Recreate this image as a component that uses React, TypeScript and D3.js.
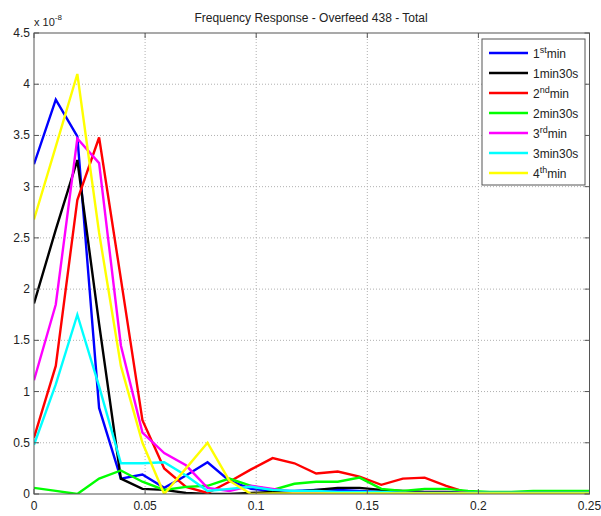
import React from "react";
import * as d3 from "d3";

// Frequency bins (cycles/sample), spacing 1/102.4
const freqs = [
  0, 0.0098, 0.0195, 0.0293, 0.0391, 0.0488, 0.0586, 0.0684, 0.0781, 0.0879,
  0.0977, 0.1074, 0.1172, 0.127, 0.1367, 0.1465, 0.1563, 0.166, 0.1758, 0.1855,
  0.1953, 0.2051, 0.2148, 0.2246, 0.2344, 0.2441, 0.2539,
];

// Amplitudes in units of 1e-8
const min1 = [3.22, 3.85, 3.49, 0.84, 0.15, 0.19, 0.06, 0.18, 0.31, 0.13, 0.05, 0.03, 0.03, 0.04, 0.04, 0.03, 0.02, 0.01, 0.01, 0.01, 0.01, 0.01, 0.01, 0.01, 0.01, 0.01, 0.01];
const min1s30 = [1.86, 2.58, 3.26, 1.66, 0.15, 0.05, 0.04, 0.01, 0.0, 0.0, 0.01, 0.02, 0.02, 0.04, 0.06, 0.06, 0.04, 0.03, 0.02, 0.02, 0.01, 0.01, 0.01, 0.01, 0.01, 0.01, 0.01];
const min2 = [0.55, 1.25, 2.87, 3.48, 2.1, 0.72, 0.25, 0.07, 0.01, 0.12, 0.24, 0.35, 0.3, 0.2, 0.22, 0.17, 0.09, 0.15, 0.16, 0.08, 0.01, 0.0, 0.0, 0.0, 0.0, 0.0, 0.0];
const min2s30 = [0.06, 0.03, 0.0, 0.15, 0.23, 0.12, 0.04, 0.07, 0.08, 0.15, 0.08, 0.04, 0.1, 0.12, 0.12, 0.16, 0.05, 0.03, 0.05, 0.05, 0.03, 0.02, 0.02, 0.03, 0.03, 0.03, 0.03];
const min3 = [1.11, 1.85, 3.47, 3.23, 1.45, 0.6, 0.4, 0.28, 0.06, 0.03, 0.08, 0.05, 0.02, 0.02, 0.01, 0.01, 0.01, 0.01, 0.01, 0.01, 0.01, 0.01, 0.01, 0.01, 0.01, 0.01, 0.01];
const min3s30 = [0.48, 1.07, 1.75, 1.05, 0.3, 0.3, 0.31, 0.18, 0.03, 0.05, 0.07, 0.04, 0.03, 0.03, 0.02, 0.02, 0.02, 0.01, 0.01, 0.01, 0.01, 0.01, 0.01, 0.01, 0.01, 0.01, 0.01];
const min4 = [2.68, 3.39, 4.1, 2.55, 1.25, 0.5, 0.0, 0.25, 0.5, 0.13, 0.0, 0.005, 0.005, 0.005, 0.005, 0.005, 0.005, 0.005, 0.005, 0.005, 0.005, 0.005, 0.005, 0.005, 0.005, 0.005, 0.005];

const xTicks = [0, 0.05, 0.1, 0.15, 0.2, 0.25];
const yTicks = [0, 0.5, 1, 1.5, 2, 2.5, 3, 3.5, 4, 4.5];

type Label = { base: string; sup?: string; rest?: string };
const seriesList: { name: Label; color: string; values: number[] }[] = [
  { name: { base: "1", sup: "st", rest: "min" }, color: "#0000ff", values: min1 },
  { name: { base: "1min30s" }, color: "#000000", values: min1s30 },
  { name: { base: "2", sup: "nd", rest: "min" }, color: "#ff0000", values: min2 },
  { name: { base: "2min30s" }, color: "#00ff00", values: min2s30 },
  { name: { base: "3", sup: "rd", rest: "min" }, color: "#ff00ff", values: min3 },
  { name: { base: "3min30s" }, color: "#00ffff", values: min3s30 },
  { name: { base: "4", sup: "th", rest: "min" }, color: "#ffff00", values: min4 },
];

const W = 601;
const H = 516;
const left = 34;
const right = 589.5;
const top = 33;
const bottom = 494;
const font = "Arial, 'Liberation Sans', sans-serif";

export default function App() {
  const x = d3.scaleLinear().domain([0, 0.25]).range([left, right]);
  const y = d3.scaleLinear().domain([0, 4.5]).range([bottom, top]);
  const line = d3
    .line<[number, number]>()
    .x((d) => x(d[0]))
    .y((d) => y(d[1]));

  const legX = 482;
  const legY = 39;
  const legW = 103;
  const legH = 146;

  return (
    <svg
      width={W}
      height={H}
      style={{ position: "absolute", left: 0, top: 0, background: "#fff" }}
      fontFamily={font}
    >
      <defs>
        <clipPath id="plot">
          <rect x={left} y={top - 2} width={right - left} height={bottom - top + 2} />
        </clipPath>
      </defs>
      <rect x={0} y={0} width={W} height={H} fill="#fff" />

      {/* grid */}
      {xTicks.slice(1, -1).map((t) => (
        <line key={"gx" + t} x1={x(t)} x2={x(t)} y1={top} y2={bottom} stroke="#b0b0b0" strokeWidth={1} strokeDasharray="1,2" />
      ))}
      {yTicks.slice(1, -1).map((t) => (
        <line key={"gy" + t} x1={left} x2={right} y1={y(t)} y2={y(t)} stroke="#b0b0b0" strokeWidth={1} strokeDasharray="1,2" />
      ))}

      {/* series */}
      <g clipPath="url(#plot)">
        {seriesList.map((s, i) => (
          <path
            key={i}
            d={line(freqs.map((f, k) => [f, s.values[k]] as [number, number])) || ""}
            fill="none"
            stroke={s.color}
            strokeWidth={2.4}
            strokeLinejoin="miter"
          />
        ))}
      </g>

      {/* axes box and ticks */}
      <rect x={left} y={top} width={right - left} height={bottom - top} fill="none" stroke="#555" strokeWidth={1} />
      {xTicks.map((t) => (
        <g key={"tx" + t}>
          <line x1={x(t)} x2={x(t)} y1={bottom} y2={bottom - 5} stroke="#555" />
          <line x1={x(t)} x2={x(t)} y1={top} y2={top + 5} stroke="#555" />
          <text x={x(t)} y={510} fontSize={12} textAnchor="middle" fill="#222">
            {String(t)}
          </text>
        </g>
      ))}
      {yTicks.map((t) => (
        <g key={"ty" + t}>
          <line x1={left} x2={left + 5} y1={y(t)} y2={y(t)} stroke="#555" />
          <line x1={right} x2={right - 5} y1={y(t)} y2={y(t)} stroke="#555" />
          <text x={30} y={y(t) + 4} fontSize={12} textAnchor="end" fill="#222">
            {String(t)}
          </text>
        </g>
      ))}

      {/* exponent */}
      <text x={34} y={26} fontSize={11} fill="#222">
        x 10
        <tspan dy={-6} fontSize={8}>-8</tspan>
      </text>

      {/* title */}
      <text x={311} y={22} fontSize={12} textAnchor="middle" fill="#222">
        Frequency Response - Overfeed 438 - Total
      </text>

      {/* legend */}
      <rect x={legX} y={legY} width={legW} height={legH} fill="#fff" stroke="#555" strokeWidth={1} />
      {seriesList.map((s, i) => {
        const cy = 53 + i * 20;
        return (
          <g key={"lg" + i}>
            <line x1={489} x2={528} y1={cy} y2={cy} stroke={s.color} strokeWidth={2.4} />
            <text x={533} y={cy + 5} fontSize={12} fill="#222">
              {s.name.base}
              {s.name.sup ? (
                <tspan dy={-5} fontSize={9}>
                  {s.name.sup}
                </tspan>
              ) : null}
              {s.name.rest ? <tspan dy={5}>{s.name.rest}</tspan> : null}
            </text>
          </g>
        );
      })}
    </svg>
  );
}
